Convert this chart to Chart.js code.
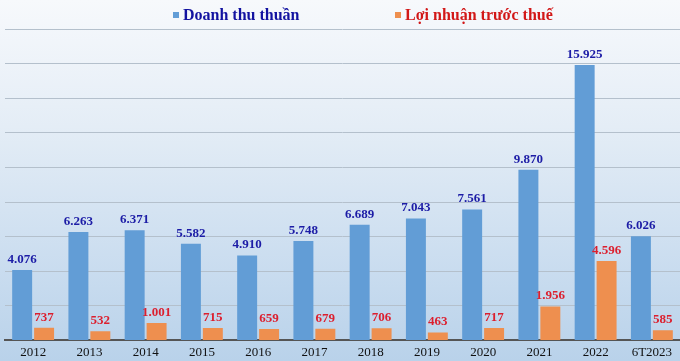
<!DOCTYPE html>
<html>
<head>
<meta charset="utf-8">
<script src="https://cdn.jsdelivr.net/npm/chart.js@4.4.0/dist/chart.umd.min.js"></script>
<style>
  html, body { margin: 0; padding: 0; }
  #wrap {
    position: relative; width: 680px; height: 361px; overflow: hidden;
    background: linear-gradient(to bottom, #f7f9fc 0%, #e4edf6 35%, #c9dcef 75%, #b9d2ea 100%);
  }
  canvas { display: block; }
  #legend span.item {
    position: absolute; top: 6px;
    font-family: "Liberation Serif", "DejaVu Serif", serif; font-weight: bold; font-size: 16px;
    white-space: nowrap;
  }
  #legend i { display: inline-block; width: 6px; height: 6px; margin-right: 4px; vertical-align: 2px; }
</style>
</head>
<body>
<div id="wrap">
  <div id="legend"></div>
  <canvas id="myChart" width="680" height="361"></canvas>
</div>
<script>
// Du lieu
const nam = ["2012", "2013", "2014", "2015", "2016", "2017", "2018", "2019", "2020", "2021", "2022", "6T2023"];
const doanhThu = [4076, 6263, 6371, 5582, 4910, 5748, 6689, 7043, 7561, 9870, 15925, 6026];
const loiNhuan = [737, 532, 1001, 715, 659, 679, 706, 463, 717, 1956, 4596, 585];

const mauXanh = "#629dd6";
const mauCam = "#ee8f4f";

//? formatear numero 15925 -> 15.925
function formatoNumero(v) {
  return String(v).replace(/\B(?=(\d{3})+(?!\d))/g, ".");
}

//? plugin de etiquetas
const etiquetas = {
  id: "etiquetas",
  afterDatasetsDraw(chart) {
    const ctx = chart.ctx;
    ctx.save();
    ctx.font = "bold 13px 'Liberation Serif', serif";
    ctx.textAlign = "center";
    ctx.textBaseline = "bottom";
    chart.data.datasets.forEach((ds, i) => {
      ctx.fillStyle = ds.labelColor;
      chart.getDatasetMeta(i).data.forEach((bar, j) => {
        ctx.fillText(formatoNumero(ds.data[j]), bar.x, bar.y - 4);
      });
    });
    ctx.restore();
  }
};

const datos = {
  labels: nam,
  datasets: [
    { label: "Doanh thu thuần", data: doanhThu, backgroundColor: mauXanh, labelColor: "#1c1ca6", textColor: "#1212a0", legendX: 173 },
    { label: "Lợi nhuận trước thuế", data: loiNhuan, backgroundColor: mauCam, labelColor: "#dc1f2e", textColor: "#d21818", legendX: 395 }
  ]
};

// Leyenda HTML
document.getElementById("legend").innerHTML = datos.datasets.map(ds =>
  `<span class="item" style="left:${ds.legendX}px;color:${ds.textColor}"><i style="background:${ds.backgroundColor}"></i>${ds.label}</span>`
).join("");

new Chart(document.getElementById("myChart"), {
  type: "bar",
  data: datos,
  plugins: [etiquetas],
  options: {
    responsive: false,
    animation: false,
    layout: { padding: { top: 29, left: 5, right: -3, bottom: -3 } },
    categoryPercentage: 0.78,
    barPercentage: 0.91,
    plugins: { legend: { display: false }, tooltip: { enabled: false } },
    scales: {
      x: {
        grid: { display: false, drawTicks: false },
        border: { color: "#555", width: 2 },
        ticks: { color: "#111", font: { family: "'Liberation Serif', serif", size: 13 }, padding: 4 }
      },
      y: {
        min: 0, max: 18000,
        ticks: { display: false, stepSize: 2000 },
        grid: { color: "#b4c0cc", drawTicks: false },
        border: { display: false }
      }
    }
  }
});
</script>
</body>
</html>
